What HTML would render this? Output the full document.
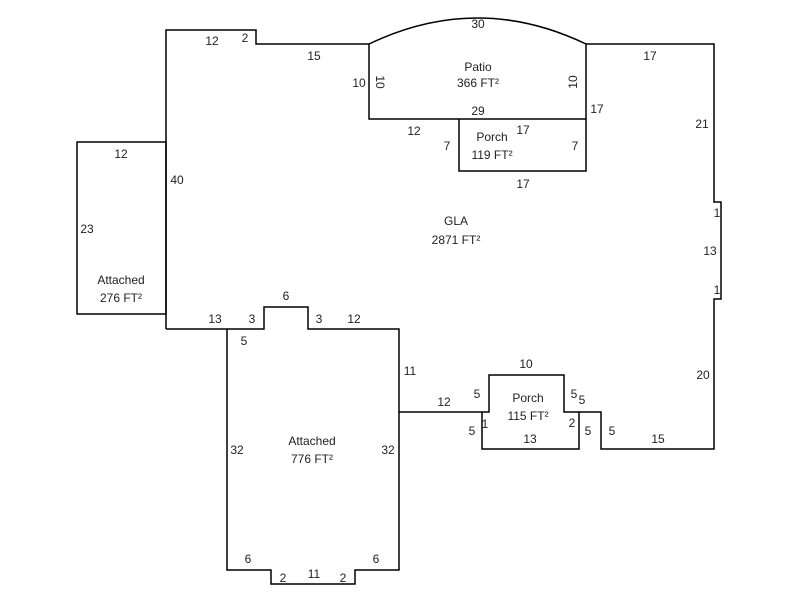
<!DOCTYPE html>
<html><head><style>body{margin:0;background:#fff}svg{display:block}text{font-family:"Liberation Sans",Arial,sans-serif;font-size:12px;fill:#222;text-anchor:middle}</style></head><body>
<svg width="800" height="600" viewBox="0 0 800 600">
<g fill="none" stroke="#000" stroke-width="1.5">
<path d="M166,329 L166,30 L256,30 L256,44 L369,44 M586,44 L714,44 L714,202 L721,202 L721,299 L714,299 L714,449 L601,449 L601,412 L579,412 M482,412 L399,412 L399,329 L308,329 L308,307 L264,307 L264,329 L166,329"/>
<path d="M369,44 Q477.5,-8 586,44 L586,119 L369,119 Z"/>
<path d="M459,119 L459,171 L586,171 L586,119"/>
<path d="M482,449 L482,412 L489,412 L489,375 L564,375 L564,412 L579,412 L579,449 Z"/>
<path d="M77,142 L166,142 L166,314 L77,314 Z"/>
<path d="M227,329 L227,570 L271,570 L271,584 L355,584 L355,570 L399,570 L399,412"/>
</g>
<text x="212" y="45">12</text><text x="245" y="42">2</text><text x="314" y="60">15</text>
<text x="478" y="28">30</text><text x="359" y="87">10</text>
<text x="478" y="71">Patio</text><text x="478" y="87">366 FT²</text>
<text x="478" y="115">29</text>
<text x="376" y="82" transform="rotate(90 376 82)">10</text>
<text x="577" y="82" transform="rotate(-90 577 82)">10</text>
<text x="650" y="60">17</text><text x="597" y="113">17</text><text x="702" y="128">21</text>
<text x="414" y="135">12</text><text x="447" y="150">7</text><text x="523" y="134">17</text>
<text x="492" y="141">Porch</text><text x="492" y="159">119 FT²</text><text x="575" y="150">7</text>
<text x="523" y="188">17</text>
<text x="121" y="158">12</text><text x="177" y="184">40</text><text x="87" y="233">23</text>
<text x="121" y="284">Attached</text><text x="121" y="302">276 FT²</text>
<text x="456" y="225">GLA</text><text x="456" y="244">2871 FT²</text>
<text x="717" y="217">1</text><text x="710" y="255">13</text><text x="717" y="294">1</text>
<text x="215" y="323">13</text><text x="252" y="323">3</text><text x="286" y="300">6</text><text x="319" y="323">3</text><text x="354" y="323">12</text>
<text x="244" y="345">5</text><text x="410" y="375">11</text>
<text x="526" y="368">10</text><text x="444" y="406">12</text><text x="477" y="398">5</text>
<text x="528" y="402">Porch</text><text x="528" y="420">115 FT²</text>
<text x="574" y="398">5</text><text x="582" y="404">5</text>
<text x="472" y="435">5</text><text x="485" y="428">1</text><text x="572" y="427">2</text><text x="588" y="435">5</text><text x="612" y="435">5</text>
<text x="530" y="443">13</text><text x="658" y="443">15</text><text x="703" y="379">20</text>
<text x="312" y="445">Attached</text><text x="312" y="463">776 FT²</text>
<text x="237" y="454">32</text><text x="388" y="454">32</text>
<text x="248" y="563">6</text><text x="376" y="563">6</text>
<text x="283" y="582">2</text><text x="314" y="578">11</text><text x="343" y="582">2</text>
</svg>
</body></html>
